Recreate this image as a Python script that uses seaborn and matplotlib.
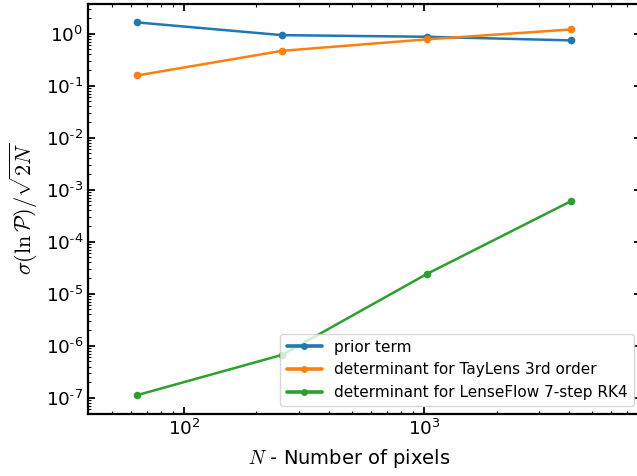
import matplotlib
matplotlib.use("Agg")
import matplotlib.pyplot as plt
import matplotlib.ticker as mticker
import numpy as np
import seaborn as sns
import pandas as pd

# Number of pixels for each map size
n_pixels = [64, 256, 1024, 4096]

# sigma(ln P) / sqrt(2N) for each term
prior_term = [1.65, 0.94, 0.875, 0.745]
taylens_det = [0.158, 0.47, 0.78, 1.21]
lenseflow_det = [1.13e-7, 6.7e-7, 2.4e-5, 6.1e-4]

series_names = [
    "prior term",
    "determinant for TayLens 3rd order",
    "determinant for LenseFlow 7-step RK4",
]

rows = []
for name, vals in zip(series_names, [prior_term, taylens_det, lenseflow_det]):
    for n, v in zip(n_pixels, vals):
        rows.append({"N": n, "sigma": v, "series": name})
df = pd.DataFrame(rows)

sns.set_style("ticks")
plt.rcParams.update({
    "font.family": ["DejaVu Sans"],
    "mathtext.fontset": "cm",
    "text.color": "black",
    "axes.labelcolor": "black",
    "axes.edgecolor": "black",
    "xtick.color": "black",
    "ytick.color": "black",
    "xtick.direction": "in",
    "ytick.direction": "in",
    "xtick.top": True,
    "ytick.right": True,
    "xtick.major.size": 5,
    "ytick.major.size": 5,
    "xtick.minor.size": 2.5,
    "ytick.minor.size": 2.5,
    "xtick.major.width": 1.3,
    "ytick.major.width": 1.3,
    "xtick.minor.width": 0.8,
    "ytick.minor.width": 0.8,
    "axes.linewidth": 1.6,
})


def decade_label(value, pos):
    """Power-of-ten label with a plain hyphen for negative exponents."""
    if value <= 0:
        return ""
    k = int(np.round(np.log10(value)))
    if not np.isclose(value, 10.0 ** k):
        return ""
    if k < 0:
        return r"$\mathdefault{10^{\text{-}%d}}$" % (-k)
    return r"$\mathdefault{10^{%d}}$" % k


fig = plt.figure(figsize=(6.37, 4.76), dpi=100)
ax = fig.add_axes([0.1387, 0.1309, 1.0067 - 0.1387, 0.9920 - 0.1309])

palette = ["#1f77b4", "#ff7f0e", "#2ca02c"]
sns.lineplot(
    data=df, x="N", y="sigma", hue="series", hue_order=series_names,
    palette=palette, marker="o", markersize=5.5, markeredgewidth=0,
    linewidth=1.8, ax=ax,
)
ax.set_xscale("log")
ax.set_yscale("log")
ax.set_xlim(40, 8000)
for axis in (ax.xaxis, ax.yaxis):
    axis.set_major_locator(mticker.LogLocator(base=10, numticks=20))
    axis.set_minor_locator(mticker.LogLocator(base=10, subs=np.arange(2, 10),
                                              numticks=20))
    axis.set_major_formatter(mticker.FuncFormatter(decade_label))
    axis.set_minor_formatter(mticker.NullFormatter())
ax.tick_params(which="both", direction="in", top=True, right=True)
ax.tick_params(which="major", labelsize=13.3)

ax.set_xlabel(r"$N$ - Number of pixels", fontsize=14)
ax.set_ylabel(r"$\sigma(\ln\mathcal{P})/\sqrt{2N}$", fontsize=16)
ax.xaxis.set_label_coords(0.472, -0.082)

sns.move_legend(ax, "lower right", title=None, fontsize=11, frameon=True,
                handlelength=2.3)
for line in ax.get_legend().get_lines():
    line.set_linewidth(2.6)
    line.set_markersize(5)

fig.savefig("out.png", dpi=100)
